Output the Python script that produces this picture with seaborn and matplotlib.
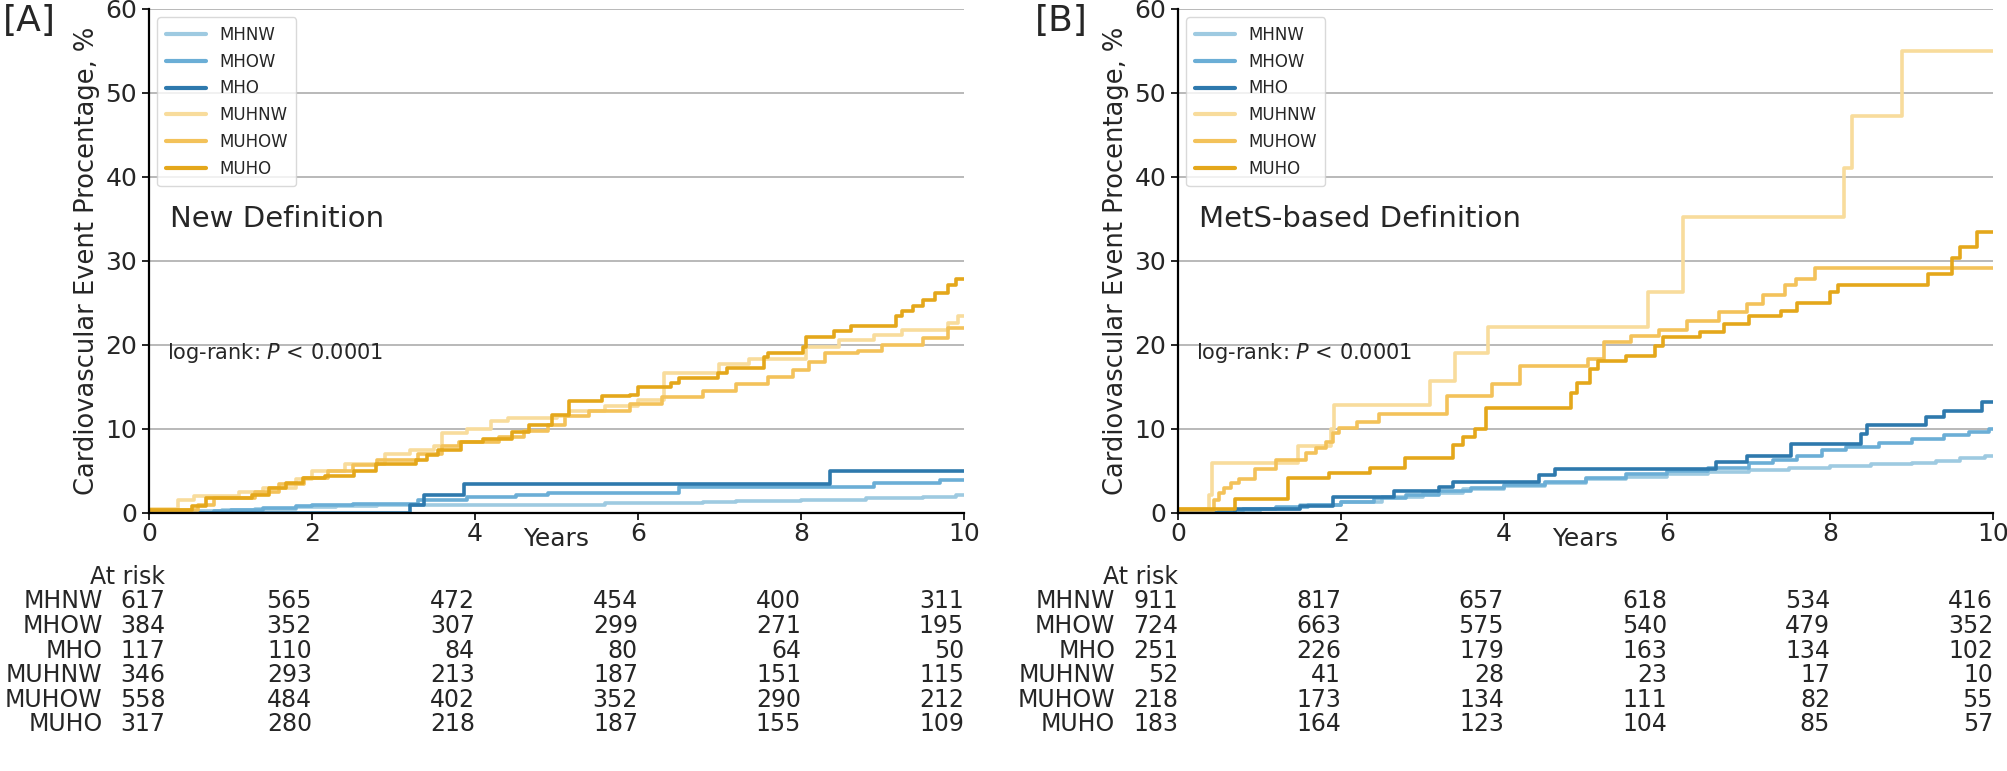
import numpy as np
import pandas as pd
import matplotlib
matplotlib.use("Agg")
import matplotlib.pyplot as plt
from matplotlib.transforms import blended_transform_factory
import seaborn as sns

groups = ["MHNW", "MHOW", "MHO", "MUHNW", "MUHOW", "MUHO"]
colors = ["#9ecae1", "#6baed6", "#2e79ad", "#f8dc9c", "#f3c25a", "#e4a71b"]

# step change points (years, cumulative %)
# [A] new definition
a_mhnw_t = [0, 0.55, 0.9, 1.3, 1.8, 2.3, 2.8, 3.5, 4.3, 5.6, 6.8, 7.2, 8.0, 8.8, 9.5, 9.9]
a_mhnw_y = [0, 0.2, 0.4, 0.5, 0.7, 0.8, 0.9, 0.95, 1.0, 1.15, 1.3, 1.45, 1.55, 1.8, 1.95, 2.2]
a_mhow_t = [0, 0.8, 1.0, 1.4, 1.8, 2.0, 2.5, 3.3, 3.9, 4.5, 4.9, 6.5, 8.9, 9.7]
a_mhow_y = [0, 0.2, 0.4, 0.6, 0.8, 1.0, 1.1, 1.6, 1.9, 2.1, 2.4, 3.1, 3.6, 3.9]
a_mho_t = [0, 3.2, 3.38, 3.86, 8.36]
a_mho_y = [0, 1.0, 2.2, 3.45, 5.0]
a_muhnw_t = [0, 0.35, 0.55, 1.1, 1.4, 1.8, 2.0, 2.4, 2.9, 3.2, 3.5, 3.6, 3.9, 4.2, 4.4, 5.0, 5.15,
             5.6, 6.0, 6.32, 7.0, 7.36, 8.06, 8.47, 8.89, 9.24, 9.8, 9.93]
a_muhnw_y = [0.5, 1.5, 2.0, 2.5, 3.0, 4.0, 5.0, 5.8, 7.0, 7.5, 8.0, 9.5, 10.0, 11.0, 11.3, 11.6, 12.1,
             12.7, 13.5, 16.7, 17.7, 18.3, 19.8, 20.6, 21.2, 21.8, 22.6, 23.4]
a_muhow_t = [0, 0.6, 0.8, 1.3, 1.6, 1.9, 2.2, 2.5, 2.8, 3.3, 3.6, 3.8, 4.3, 4.6, 4.9, 5.1, 5.4, 5.9,
             6.3, 6.8, 7.2, 7.6, 7.9, 8.1, 8.3, 8.7, 9.0, 9.5, 9.8]
a_muhow_y = [0.3, 1.0, 1.8, 2.5, 3.5, 4.2, 5.0, 5.7, 6.3, 7.0, 8.0, 8.5, 9.0, 9.8, 10.5, 11.5, 12.2, 13.0,
             13.8, 14.5, 15.3, 16.2, 17.0, 18.0, 19.0, 19.3, 20.0, 20.8, 22.0]
a_muho_t = [0, 0.53, 0.7, 1.26, 1.47, 1.68, 1.89, 2.16, 2.51, 2.79, 3.27, 3.41, 3.55, 3.83, 4.1, 4.45,
            4.66, 4.94, 5.15, 5.56, 5.9, 6.0, 6.4, 6.5, 6.98, 7.09, 7.54, 7.6, 8.02, 8.06, 8.4, 8.61,
            9.17, 9.24, 9.38, 9.5, 9.65, 9.8, 9.9]
a_muho_y = [0.3, 0.8, 1.8, 2.2, 3.0, 3.6, 4.2, 4.4, 5.0, 5.8, 6.3, 6.9, 7.5, 8.5, 8.8, 9.7,
            10.5, 11.7, 13.3, 13.9, 14.1, 15.0, 15.5, 16.1, 16.7, 17.3, 18.6, 19.0, 19.8, 21.0, 21.7, 22.3,
            23.4, 24.0, 24.6, 25.3, 26.2, 27.2, 27.9]

# [B] MetS-based definition
b_mhnw_t = [0, 0.6, 1.0, 1.5, 2.0, 2.5, 3.0, 3.5, 4.0, 4.5, 5.0, 5.5, 6.0, 6.5, 7.0, 7.5, 8.0, 8.5, 9.0, 9.3, 9.6, 9.9]
b_mhnw_y = [0, 0.2, 0.5, 0.9, 1.3, 1.9, 2.4, 2.9, 3.2, 3.6, 4.0, 4.3, 4.6, 4.9, 5.1, 5.4, 5.6, 5.8, 5.9, 6.2, 6.5, 6.8]
b_mhow_t = [0, 0.5, 0.8, 1.2, 1.6, 2.0, 2.4, 2.8, 3.2, 3.6, 4.0, 4.5, 5.0, 5.5, 6.0, 6.5, 7.0, 7.3, 7.6,
            7.9, 8.2, 8.6, 9.0, 9.4, 9.7, 9.95]
b_mhow_y = [0, 0.2, 0.5, 0.7, 0.9, 1.3, 1.8, 2.2, 2.6, 3.0, 3.3, 3.7, 4.2, 4.6, 5.0, 5.4, 5.9, 6.3, 6.8,
            7.5, 7.9, 8.3, 8.8, 9.3, 9.7, 10.0]
b_mho_t = [0, 0.7, 1.5, 1.9, 2.65, 3.2, 3.38, 4.43, 4.62, 6.6, 6.98, 7.52, 8.38, 8.45, 9.18, 9.4, 9.87]
b_mho_y = [0, 0.5, 0.8, 1.9, 2.6, 3.1, 3.7, 4.5, 5.2, 6.1, 6.8, 8.2, 9.4, 10.5, 11.4, 12.2, 13.2]
b_muhnw_t = [0, 0.38, 0.42, 1.47, 1.88, 1.92, 3.09, 3.4, 3.8, 5.77, 6.2, 8.17, 8.27, 8.88]
b_muhnw_y = [0.5, 2.2, 6.0, 8.0, 10.0, 12.8, 15.7, 19.0, 22.1, 26.3, 35.2, 41.1, 47.3, 55.0]
b_muhow_t = [0, 0.44, 0.5, 0.57, 0.65, 0.75, 0.95, 1.2, 1.57, 1.69, 1.82, 1.9, 1.98, 2.2, 2.47, 3.3,
             3.85, 4.2, 5.03, 5.23, 5.56, 5.9, 6.24, 6.64, 6.98, 7.18, 7.45, 7.58, 7.82]
b_muhow_y = [0.3, 1.6, 2.4, 3.0, 3.6, 4.0, 5.2, 6.3, 7.1, 7.7, 8.5, 9.5, 10.1, 10.8, 11.8, 13.9,
             15.3, 17.5, 18.3, 20.3, 21.1, 21.8, 22.8, 23.9, 24.9, 25.9, 27.1, 27.9, 29.2]
b_muho_t = [0, 0.7, 1.35, 1.85, 2.35, 2.78, 3.37, 3.5, 3.65, 3.78, 4.82, 4.9, 5.05, 5.15, 5.5, 5.85,
            5.95, 6.4, 6.7, 7.0, 7.4, 7.6, 8.0, 8.1, 9.2, 9.5, 9.6, 9.8]
b_muho_y = [0.5, 1.7, 4.2, 4.8, 5.4, 6.5, 8.1, 9.0, 10.0, 12.5, 14.3, 15.5, 17.1, 18.1, 18.7, 19.9,
            21.0, 21.5, 22.5, 23.5, 24.0, 25.0, 26.3, 27.2, 28.5, 30.4, 31.7, 33.5]

risk_times = [0, 2, 4, 6, 8, 10]
a_risk_mhnw = [617, 565, 472, 454, 400, 311]
a_risk_mhow = [384, 352, 307, 299, 271, 195]
a_risk_mho = [117, 110, 84, 80, 64, 50]
a_risk_muhnw = [346, 293, 213, 187, 151, 115]
a_risk_muhow = [558, 484, 402, 352, 290, 212]
a_risk_muho = [317, 280, 218, 187, 155, 109]
b_risk_mhnw = [911, 817, 657, 618, 534, 416]
b_risk_mhow = [724, 663, 575, 540, 479, 352]
b_risk_mho = [251, 226, 179, 163, 134, 102]
b_risk_muhnw = [52, 41, 28, 23, 17, 10]
b_risk_muhow = [218, 173, 134, 111, 82, 55]
b_risk_muho = [183, 164, 123, 104, 85, 57]

panels = [
    dict(tag="[A]", title="New Definition",
         curves=[(a_mhnw_t, a_mhnw_y), (a_mhow_t, a_mhow_y), (a_mho_t, a_mho_y),
                 (a_muhnw_t, a_muhnw_y), (a_muhow_t, a_muhow_y), (a_muho_t, a_muho_y)],
         risk=[a_risk_mhnw, a_risk_mhow, a_risk_mho, a_risk_muhnw, a_risk_muhow, a_risk_muho]),
    dict(tag="[B]", title="MetS-based Definition",
         curves=[(b_mhnw_t, b_mhnw_y), (b_mhow_t, b_mhow_y), (b_mho_t, b_mho_y),
                 (b_muhnw_t, b_muhnw_y), (b_muhow_t, b_muhow_y), (b_muho_t, b_muho_y)],
         risk=[b_risk_mhnw, b_risk_mhow, b_risk_mho, b_risk_muhnw, b_risk_muhow, b_risk_muho]),
]

sns.set_style("white")
plt.rcParams["font.family"] = ["DejaVu Sans"]

W, H = 2008, 771
fig = plt.figure(figsize=(W / 100, H / 100), dpi=100)
ax_left = [149, 1178]
ax_w = 815
tag_x = [3, 1035]
first_col = [0.2, 0.0]   # first at-risk column sits a bit further right in [A]
row_y = [601, 626, 651, 675, 700, 724]

for i, p in enumerate(panels):
    ax = fig.add_axes([ax_left[i] / W, 1 - 513 / H, ax_w / W, 504 / H])
    rows = []
    for g, (t, y) in zip(groups, p["curves"]):
        tt = list(t) + [10]
        yy = list(y) + [y[-1]]
        for a, b in zip(tt, yy):
            rows.append((g, a, b))
    df = pd.DataFrame(rows, columns=["group", "years", "pct"])
    sns.lineplot(data=df, x="years", y="pct", hue="group", hue_order=groups,
                 palette=colors, estimator=None, sort=False, drawstyle="steps-post",
                 linewidth=2.6, ax=ax)

    ax.set_xlim(0, 10)
    ax.set_ylim(0, 60)
    ax.set_xticks(risk_times)
    ax.set_yticks(range(0, 61, 10))
    ax.yaxis.grid(True, color="#b3b3b3", linewidth=1.3)
    ax.xaxis.grid(False)
    for s in ["top", "right"]:
        ax.spines[s].set_visible(False)
    for s in ["left", "bottom"]:
        ax.spines[s].set_linewidth(1.6)
        ax.spines[s].set_color("black")
    ax.tick_params(axis="both", labelsize=18, length=5, width=1.4, direction="out",
                   left=True, bottom=True)
    ax.tick_params(axis="x", pad=1.5)
    ax.set_xlabel("Years", fontsize=18, labelpad=-14)
    ax.set_ylabel("Cardiovascular Event Procentage, %", fontsize=18.5)

    leg = ax.legend(loc="upper left", fontsize=12, frameon=True, handlelength=2.4,
                    labelspacing=0.53, borderpad=0.5)
    leg.get_frame().set_edgecolor("#d0d0d0")
    for h in leg.get_lines():
        h.set_linewidth(3)

    ax.text(0.26, 35, p["title"], fontsize=21, va="center", ha="left")
    ax.text(0.22, 19, "log-rank: $P$ < 0.0001", fontsize=15, va="center", ha="left")
    fig.text(tag_x[i] / W, 1 - 4 / H, p["tag"], fontsize=26, va="top", ha="left")

    tr = blended_transform_factory(ax.transData, fig.transFigure)
    x0 = first_col[i]
    ax.text(x0, 1 - 577 / H, "At risk", transform=tr, fontsize=17, ha="right", va="center")
    for g, counts, yp in zip(groups, p["risk"], row_y):
        ax.text(x0 - 0.77, 1 - yp / H, g, transform=tr, fontsize=17, ha="right", va="center")
        for tx, c in zip(risk_times, counts):
            xx = x0 if tx == 0 else tx
            ax.text(xx, 1 - yp / H, str(c), transform=tr, fontsize=17, ha="right", va="center")

fig.savefig("out.png", dpi=100)
